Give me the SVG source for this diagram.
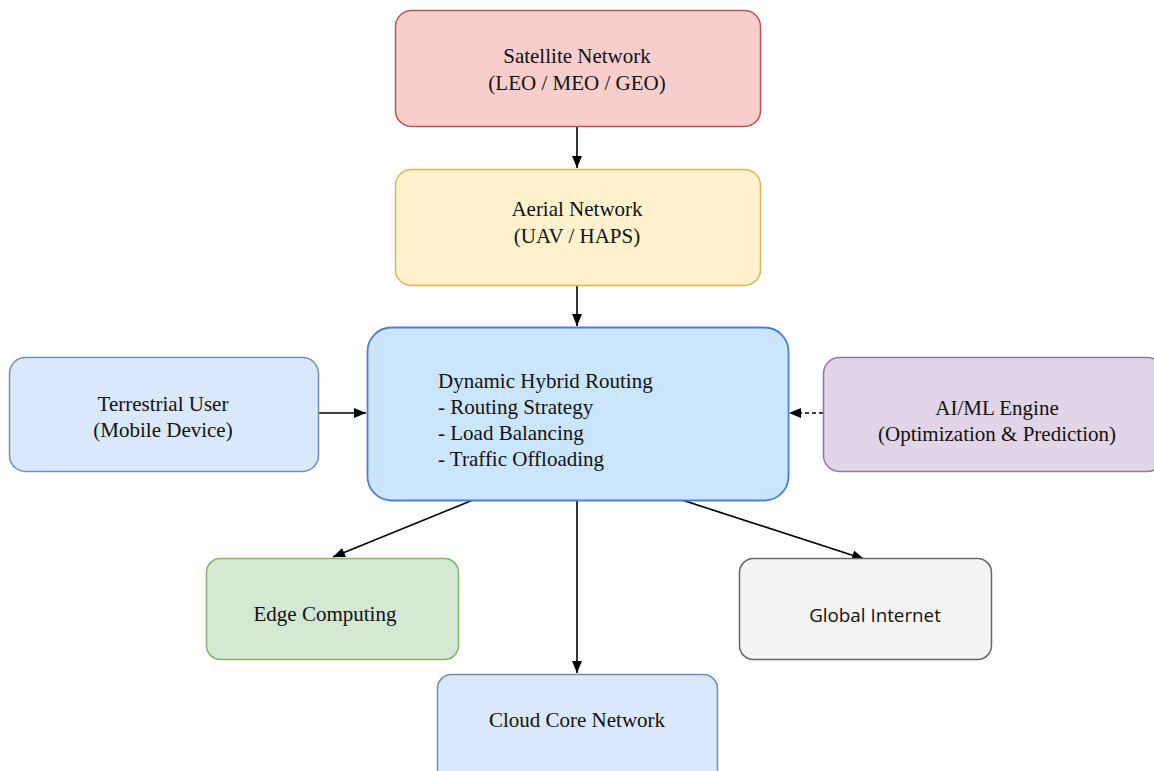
<svg xmlns="http://www.w3.org/2000/svg" width="1154" height="771" viewBox="0 0 1154 771">
<defs>
<style>
.t{font-family:"Liberation Serif","Times New Roman",serif;font-size:21px;fill:#111}
.c{text-anchor:middle}
.s{font-family:"Open Sans","Liberation Sans",sans-serif;font-size:18.8px;fill:#111}
.e{stroke:#000;stroke-width:1.6;fill:none;marker-end:url(#ah)}
</style>
<marker id="ah" viewBox="0 0 10 10" refX="10" refY="5" markerWidth="12" markerHeight="10" markerUnits="userSpaceOnUse" orient="auto" preserveAspectRatio="none"><path d="M0,0 L10,5 L0,10 z" fill="#000"/></marker>
</defs>
<rect width="1154" height="771" fill="#fff"/>
<g id="connectors">
<line class="e" x1="577" y1="126" x2="577" y2="168"/>
<line class="e" x1="577" y1="285" x2="577" y2="326"/>
<line class="e" x1="318" y1="413" x2="366" y2="413"/>
<line class="e" x1="823" y1="413" x2="789" y2="413" stroke-dasharray="4,3"/>
<line class="e" x1="473" y1="500" x2="333" y2="557"/>
<line class="e" x1="577" y1="500" x2="577" y2="673"/>
<line class="e" x1="682" y1="500" x2="864" y2="559"/>
</g>
<g id="satellite">
<rect x="395.5" y="10.5" width="365" height="116" rx="16" fill="#f8cecc" stroke="#b85450" stroke-width="1.5"/>
<text class="t c" x="577" y="63">Satellite Network</text>
<text class="t c" x="577" y="90">(LEO / MEO / GEO)</text>
</g>
<g id="aerial">
<rect x="395.5" y="169.5" width="365" height="116" rx="16" fill="#fff2cc" stroke="#d6b656" stroke-width="1.5"/>
<text class="t c" x="577" y="216">Aerial Network</text>
<text class="t c" x="577" y="243">(UAV / HAPS)</text>
</g>
<g id="routing">
<rect x="367.5" y="327.5" width="421" height="173" rx="24" fill="#cce5ff" stroke="#4a7fd6" stroke-width="1.8"/>
<text class="t" x="438" y="388">Dynamic Hybrid Routing</text>
<text class="t" x="438" y="414">- Routing Strategy</text>
<text class="t" x="438" y="440">- Load Balancing</text>
<text class="t" x="438" y="466">- Traffic Offloading</text>
</g>
<g id="terrestrial">
<rect x="9.5" y="357.5" width="309" height="114" rx="16" fill="#dae8fc" stroke="#6c8ebf" stroke-width="1.5"/>
<text class="t c" x="163" y="411">Terrestrial User</text>
<text class="t c" x="163" y="437">(Mobile Device)</text>
</g>
<g id="aiml">
<rect x="823.5" y="357.5" width="340" height="114" rx="16" fill="#e1d5e7" stroke="#9673a6" stroke-width="1.5"/>
<text class="t c" x="997" y="415">AI/ML Engine</text>
<text class="t c" x="997" y="441">(Optimization &amp; Prediction)</text>
</g>
<g id="edge">
<rect x="206.5" y="558.5" width="252" height="101" rx="14" fill="#d5e8d4" stroke="#82b366" stroke-width="1.5"/>
<text class="t c" x="325" y="621">Edge Computing</text>
</g>
<g id="internet">
<rect x="739.5" y="558.5" width="252" height="101" rx="14" fill="#f5f5f5" stroke="#666666" stroke-width="1.5"/>
<text class="s c" x="875" y="622">Global Internet</text>
</g>
<g id="cloud">
<rect x="437.5" y="674.5" width="280" height="110" rx="14" fill="#dae8fc" stroke="#6c8ebf" stroke-width="1.5"/>
<text class="t c" x="577" y="727">Cloud Core Network</text>
</g>
</svg>
